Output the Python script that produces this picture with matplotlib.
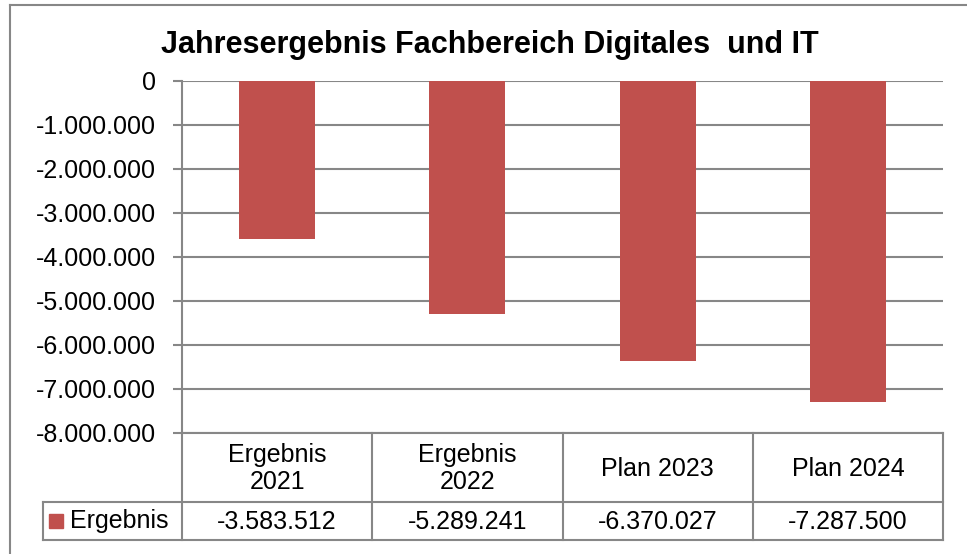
import matplotlib.pyplot as plt
from matplotlib.lines import Line2D
from matplotlib.patches import Rectangle
from matplotlib.ticker import FuncFormatter, MultipleLocator

plt.rcParams["font.family"] = ["Liberation Sans", "DejaVu Sans"]

# data
categories = ["Ergebnis\n2021", "Ergebnis\n2022", "Plan 2023", "Plan 2024"]
ergebnis = [-3583512, -5289241, -6370027, -7287500]
series_name = "Ergebnis"
title = "Jahresergebnis Fachbereich Digitales  und IT"

bar_color = "#C0504D"
line_color = "#878787"
fs = 18

W, H = 967, 554
fig = plt.figure(figsize=(W / 100, H / 100), dpi=100)


def fx(px):
    return px / W


def fy(py):
    return 1 - py / H


# plot area (pixel layout)
left, right, top, bottom = 182, 943, 81, 433
ax = fig.add_axes([fx(left), fy(bottom), fx(right - left), (bottom - top) / H])

x = range(len(categories))
ax.bar(x, ergebnis, width=0.4, color=bar_color, zorder=3)
ax.set_xlim(-0.5, len(categories) - 0.5)
ax.set_ylim(-8000000, 0)
ax.yaxis.set_major_locator(MultipleLocator(1000000))
ax.yaxis.set_major_formatter(FuncFormatter(lambda v, p: f"{int(v):,}".replace(",", ".")))
ax.grid(axis="y", color=line_color, lw=1.5, zorder=0)
ax.set_xticks([])
for s in ["top", "right", "bottom"]:
    ax.spines[s].set_visible(False)
ax.spines["left"].set_color(line_color)
ax.spines["left"].set_linewidth(1.5)
ax.tick_params(axis="y", length=6.5, width=1.5, color=line_color, labelsize=fs, pad=12)

# data table below the plot
tb_left, tb_bottom = 43, 540
row_split = 502
tab = fig.add_axes([fx(tb_left), fy(tb_bottom), fx(right - tb_left), (tb_bottom - bottom) / H])
cat_w = (right - left) / len(categories)
tab.set_xlim(-0.5 - (left - tb_left) / cat_w, len(categories) - 0.5)
tab.set_ylim(tb_bottom, bottom)
tab.axis("off")

kw = dict(color=line_color, lw=1.5, clip_on=False)
n = len(categories)
x0 = tab.get_xlim()[0]
# horizontal lines
tab.plot([-0.5, n - 0.5], [bottom, bottom], **kw)
tab.plot([x0, n - 0.5], [row_split, row_split], **kw)
tab.plot([x0, n - 0.5], [tb_bottom, tb_bottom], **kw)
# vertical lines
for i in range(n + 1):
    tab.plot([i - 0.5, i - 0.5], [bottom, tb_bottom], **kw)
tab.plot([x0, x0], [row_split, tb_bottom], **kw)

for i, (c, v) in enumerate(zip(categories, ergebnis)):
    tab.text(i, (bottom + row_split) / 2 + 1, c, ha="center", va="center",
             fontsize=fs, linespacing=1.15)
    tab.text(i, (row_split + tb_bottom) / 2 + 1, f"{v:,}".replace(",", "."),
             ha="center", va="center", fontsize=fs)

# legend key in the table
fig.patches.append(Rectangle((fx(49), fy(528)), fx(14), 14 / H, color=bar_color,
                             transform=fig.transFigure))
fig.text(fx(70), fy(521), series_name, ha="left", va="center", fontsize=fs)

# title
fig.text(fx(490), fy(45), title, ha="center", va="center", fontsize=22, fontweight="bold")

# outer chart frame
fig.add_artist(Line2D([fx(10), 1], [fy(5), fy(5)], color=line_color, lw=1.5))
fig.add_artist(Line2D([fx(10), fx(10)], [fy(5), 0], color=line_color, lw=1.5))

fig.savefig("out.png", dpi=100)
